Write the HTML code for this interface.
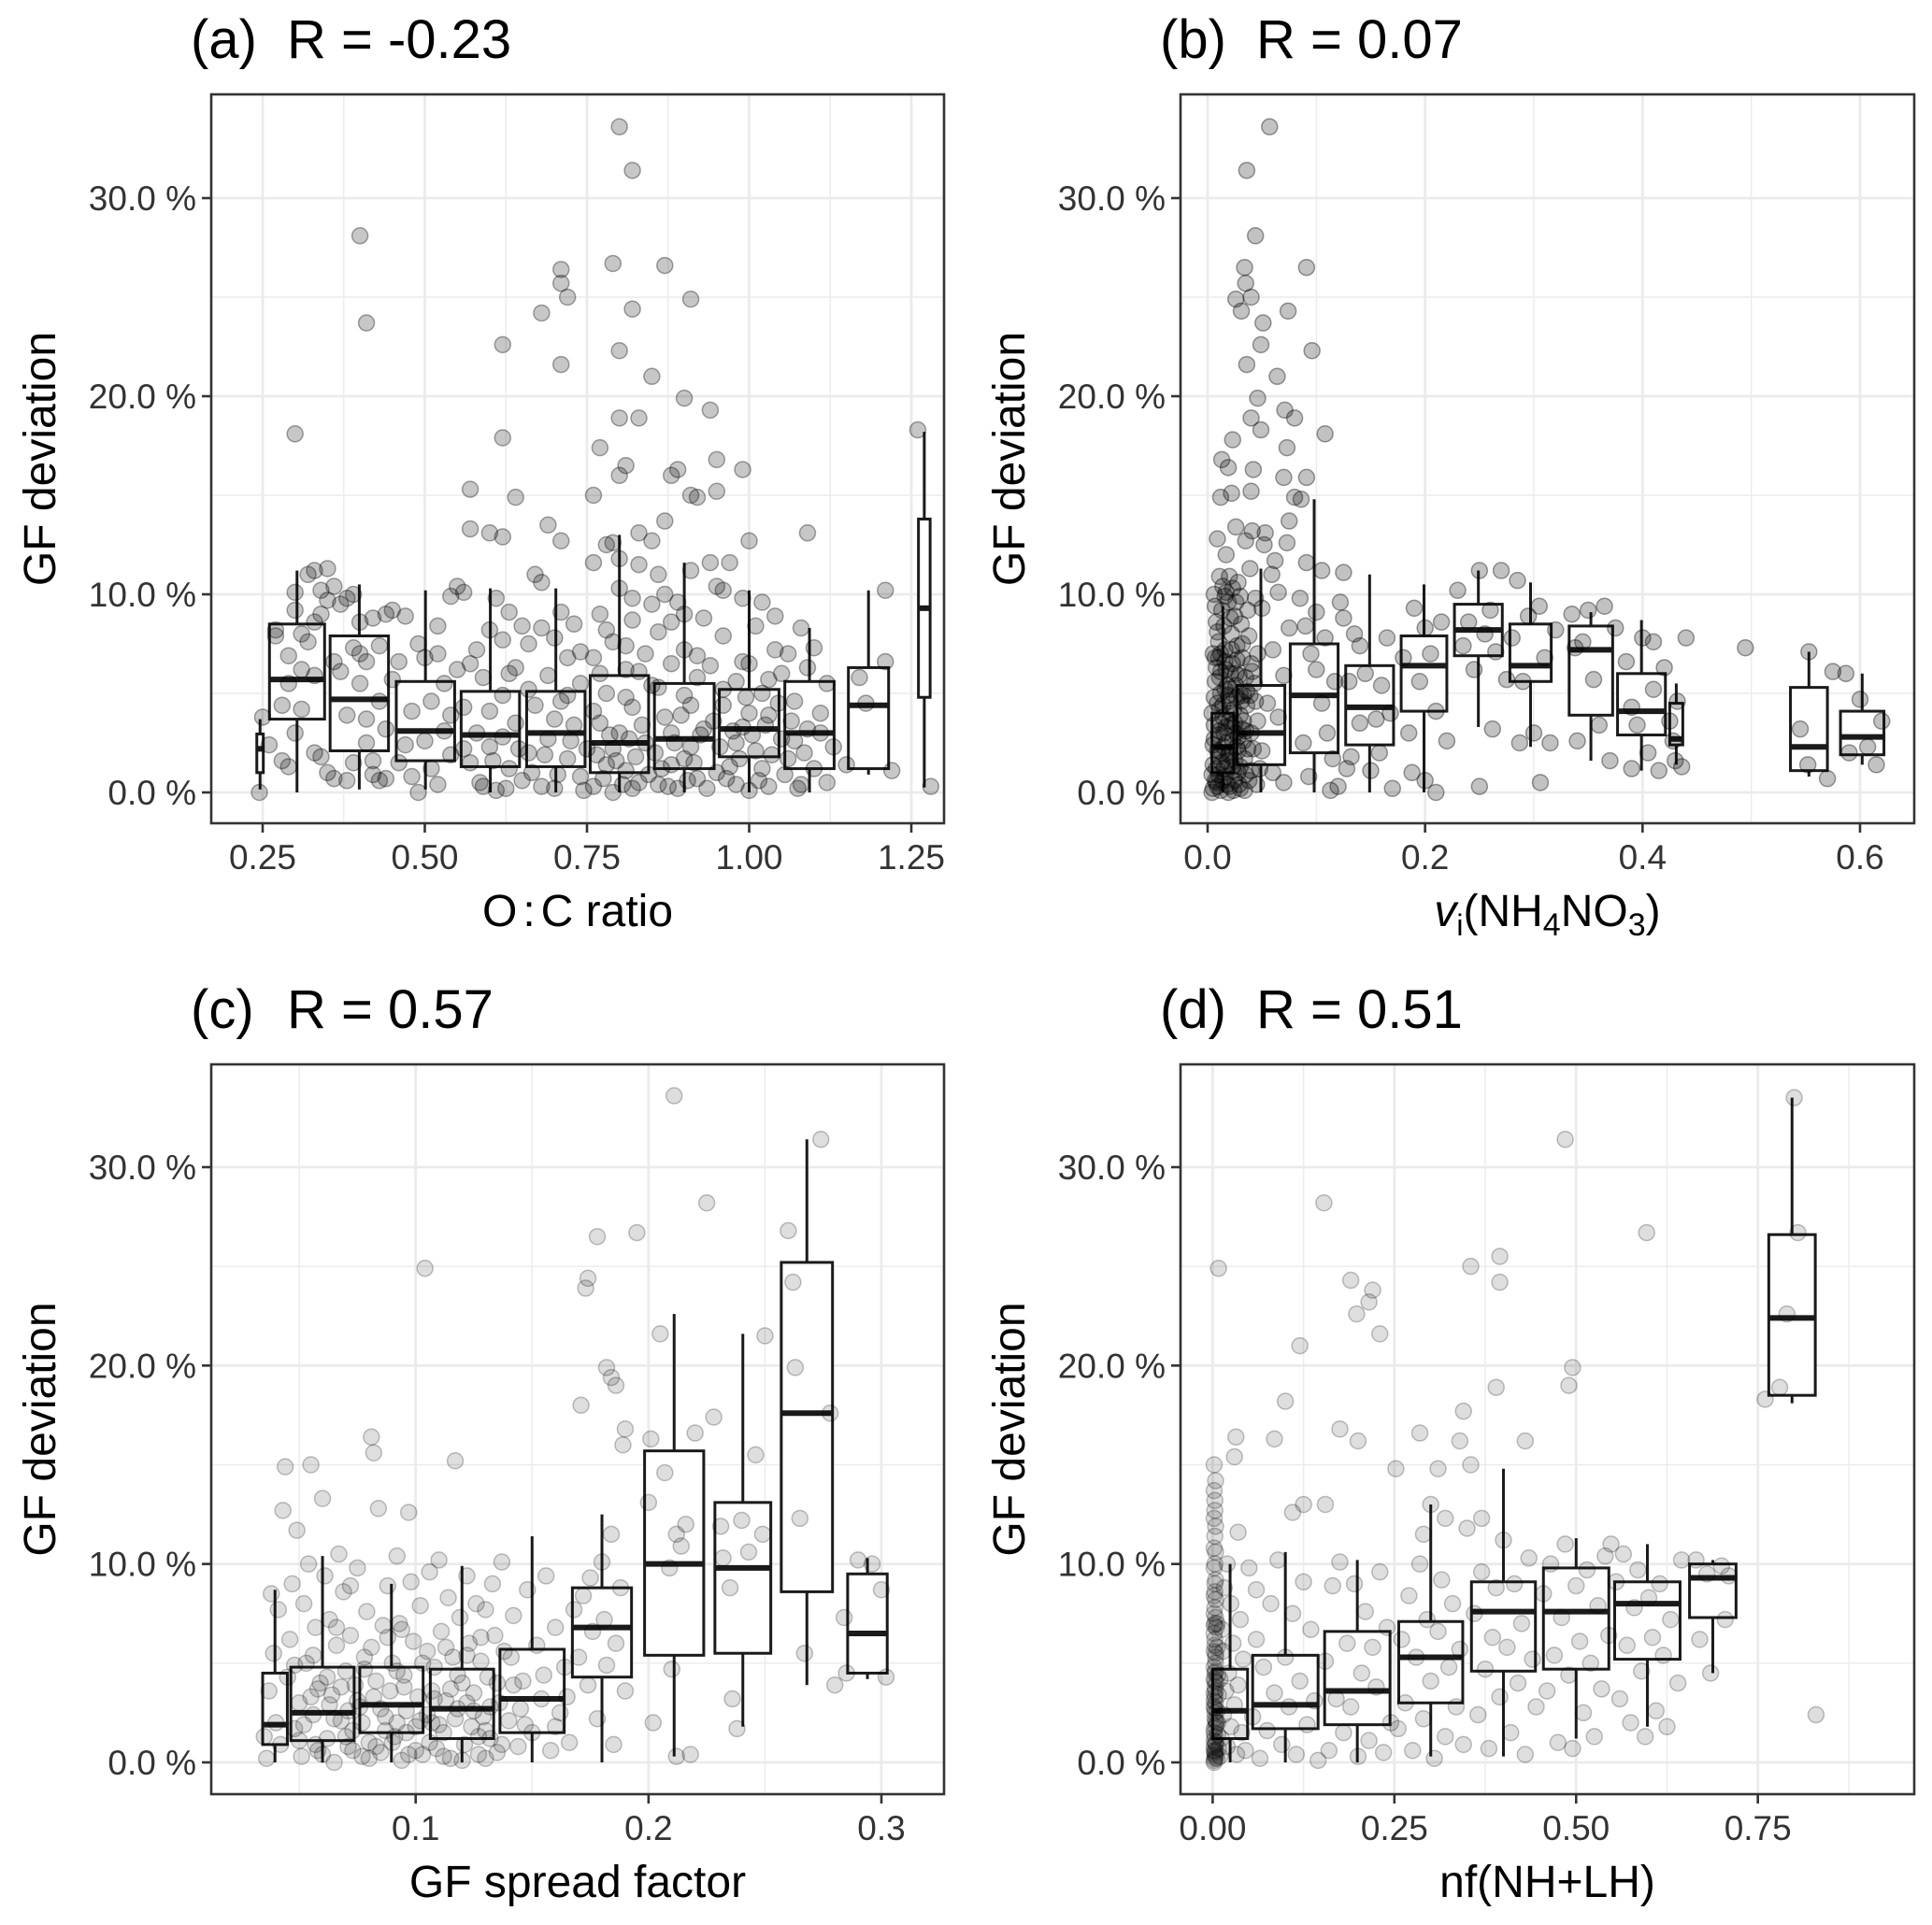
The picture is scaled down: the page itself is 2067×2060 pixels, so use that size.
<!DOCTYPE html>
<html><head><meta charset="utf-8"><title>GF deviation panels</title>
<style>html,body{margin:0;padding:0;background:#fff}svg{display:block}text{font-family:"Liberation Sans",Arial,sans-serif}</style>
</head><body>
<svg id="fig" width="2067" height="2060" viewBox="0 0 2067 2060" xmlns="http://www.w3.org/2000/svg"></svg>
<script>
// ---------------- data ----------------
const yTicks=[0,10,20,30];
const yTickLabels=["0.0 %","10.0 %","20.0 %","30.0 %"];
const yMinor=[5,15,25];

const xTicksA=[0.25,0.5,0.75,1.0,1.25];
const xTickLabelsA=["0.25","0.50","0.75","1.00","1.25"];
const xTicksB=[0,0.2,0.4,0.6];
const xTickLabelsB=["0.0","0.2","0.4","0.6"];
const xTicksC=[0.1,0.2,0.3];
const xTickLabelsC=["0.1","0.2","0.3"];
const xTicksD=[0,0.25,0.5,0.75];
const xTickLabelsD=["0.00","0.25","0.50","0.75"];

const titlesR=["R = -0.23","R = 0.07","R = 0.57","R = 0.51"];

// boxes: [x, halfWidth, lowerWhisker, q1, median, q3, upperWhisker]
const boxesA=[[0.246,0.005,0.15,1.0,2.2,2.95,3.7],[0.303,0.0425,0,3.7,5.7,8.5,11.2],[0.399,0.045,0.15,2.1,4.7,7.9,10.5],[0.501,0.045,0.15,1.6,3.1,5.6,10.2],[0.601,0.045,0,1.3,2.9,5.1,10.3],[0.702,0.045,0,1.3,3.0,5.1,10.3],[0.80,0.045,0,1.0,2.5,5.9,13.0],[0.90,0.046,0,1.2,2.7,5.5,11.6],[1.0,0.046,0,1.8,3.2,5.2,10.2],[1.093,0.038,0,1.2,3.0,5.6,8.3],[1.184,0.031,0.9,1.2,4.4,6.3,10.2],[1.27,0.009,0.25,4.8,9.3,13.8,18.2]];
const boxesB=[[0.014,0.01,0,1.0,2.3,4.0,9.4],[0.049,0.022,0,1.4,3.0,5.4,11.3],[0.098,0.022,0,2.0,4.9,7.5,14.8],[0.149,0.022,0,2.4,4.3,6.4,11.0],[0.199,0.021,0,4.1,6.4,7.9,10.5],[0.249,0.022,3.3,6.9,8.2,9.5,11.2],[0.297,0.019,2.3,5.6,6.4,8.5,10.6],[0.3525,0.02,1.6,3.9,7.2,8.4,9.1],[0.399,0.022,1.1,2.9,4.1,6.0,8.7],[0.431,0.006,1.4,2.4,2.7,4.5,5.5],[0.553,0.017,0.8,1.1,2.3,5.3,7.1],[0.602,0.02,1.4,1.9,2.8,4.1,6.0]];
const boxesC=[[0.0396,0.0053,0,0.9,1.9,4.5,8.7],[0.060,0.0136,0,1.1,2.5,4.8,10.4],[0.0896,0.0136,0,1.5,2.9,4.8,9.0],[0.1199,0.0136,0,1.2,2.7,4.7,9.9],[0.15,0.0138,0,1.5,3.2,5.7,11.4],[0.180,0.0127,0,4.3,6.8,8.8,12.5],[0.211,0.0127,0.3,5.4,10.0,15.7,22.6],[0.2405,0.012,1.8,5.5,9.8,13.1,21.6],[0.268,0.011,3.9,8.6,17.6,25.2,31.4],[0.294,0.0085,4.2,4.5,6.5,9.5,10.3]];
const boxesD=[[0.024,0.024,0,1.2,2.6,4.7,10.0],[0.10,0.045,0,1.7,2.9,5.4,10.6],[0.199,0.045,0,1.9,3.6,6.6,10.2],[0.30,0.044,0.3,3.0,5.3,7.1,13.0],[0.40,0.044,0.3,4.6,7.6,9.1,14.8],[0.50,0.045,1.2,4.7,7.6,9.8,11.3],[0.598,0.045,1.8,5.2,8.0,9.1,11.0],[0.688,0.032,4.5,7.3,9.3,10.0,10.2],[0.797,0.032,18.1,18.5,22.4,26.6,33.5]];

const ptsA=[[0.245,0],[0.25,3.8],[0.26,2.4],[0.27,8.2],[0.27,7.9],[0.28,1.6],[0.28,4.4],[0.29,6.9],[0.29,1.3],[0.30,9.2],[0.30,10.1],[0.31,8.0],[0.31,4.2],[0.32,11.0],[0.32,7.6],[0.33,11.2],[0.33,5.9],[0.34,10.2],[0.34,9.0],[0.35,11.3],[0.35,9.7],[0.35,1.0],[0.36,10.4],[0.34,1.8],[0.36,6.6],[0.37,9.5],[0.36,0.7],[0.33,2.0],[0.31,6.2],[0.29,5.5],
[0.38,9.8],[0.38,3.9],[0.39,7.3],[0.39,1.5],[0.40,5.5],[0.40,8.6],[0.41,2.5],[0.41,6.6],[0.42,1.6],[0.42,8.8],[0.43,4.6],[0.43,0.6],[0.44,9.0],[0.44,3.2],[0.45,9.2],[0.45,5.7],[0.37,6.1],[0.38,0.6],[0.42,0.9],[0.44,0.7],[0.40,7.0],[0.41,3.7],
[0.46,6.6],[0.47,2.4],[0.47,8.9],[0.48,4.1],[0.48,0.8],[0.49,7.5],[0.50,2.6],[0.50,6.8],[0.51,1.2],[0.51,4.6],[0.52,8.4],[0.52,0.4],[0.53,5.5],[0.53,3.1],[0.54,9.9],[0.54,1.9],[0.55,6.2],[0.49,0.0],[0.55,10.4],[0.46,1.5],[0.52,7.0],
[0.56,4.3],[0.56,10.1],[0.57,1.5],[0.58,7.2],[0.58,3.0],[0.59,0.3],[0.59,5.8],[0.60,8.2],[0.60,2.3],[0.61,9.8],[0.61,0.1],[0.62,4.9],[0.62,7.7],[0.63,1.2],[0.63,9.1],[0.64,6.3],[0.64,3.5],[0.65,8.4],[0.65,0.6],[0.57,6.5],[0.60,4.1],[0.62,2.8],
[0.66,7.5],[0.66,2.0],[0.67,11.0],[0.67,4.4],[0.68,0.3],[0.68,8.3],[0.69,5.9],[0.69,2.7],[0.70,7.8],[0.70,0.2],[0.71,4.6],[0.71,9.1],[0.72,1.7],[0.72,6.8],[0.73,3.4],[0.73,8.5],[0.74,0.8],[0.74,5.5],[0.75,2.2],[0.68,10.6],[0.72,4.9],[0.70,3.7],
[0.76,11.6],[0.76,6.8],[0.76,0.3],[0.77,3.5],[0.77,9.0],[0.78,12.5],[0.78,1.4],[0.78,5.0],[0.79,7.6],[0.79,0.0],[0.80,11.8],[0.80,3.0],[0.80,10.3],[0.81,6.2],[0.81,1.1],[0.82,8.7],[0.82,4.3],[0.83,11.5],[0.83,0.5],[0.84,7.0],[0.84,2.5],[0.85,9.5],[0.85,5.4],[0.79,2.2],[0.82,0.2],[0.77,6.0],[0.81,4.8],
[0.86,0.4],[0.86,8.1],[0.87,3.8],[0.87,10.0],[0.88,1.4],[0.88,6.5],[0.89,9.6],[0.89,0.2],[0.90,4.9],[0.90,7.2],[0.91,2.3],[0.91,11.2],[0.92,5.8],[0.92,0.7],[0.93,8.8],[0.93,3.2],[0.94,11.6],[0.94,6.4],[0.95,1.0],[0.95,10.4],[0.88,3.0],[0.91,4.4],[0.90,1.7],
[0.96,4.4],[0.96,7.9],[0.97,1.3],[0.97,11.6],[0.98,5.6],[0.98,0.4],[0.99,9.8],[0.99,3.3],[1.00,6.5],[1.00,0.1],[1.01,8.4],[1.01,2.1],[1.02,5.0],[1.02,9.6],[1.03,0.3],[1.03,3.9],[1.04,7.2],[1.04,8.9],[1.05,2.7],[1.05,6.0],[0.98,2.5],[1.00,4.0],[1.02,1.2],
[1.06,7.0],[1.06,1.7],[1.07,4.6],[1.08,8.3],[1.08,0.4],[1.09,3.2],[1.09,6.3],[1.10,1.2],[1.10,7.3],[1.11,4.0],[1.12,0.5],[1.12,5.5],[1.13,2.3],[1.07,2.6],[1.11,3.0],
[1.15,1.4],[1.17,5.8],[1.18,4.5],[1.21,10.2],[1.22,1.1],[1.21,6.6],[1.26,18.3],[1.28,0.3],
[0.40,28.1],[0.41,23.7],[0.30,18.1],[0.71,26.4],[0.71,25.7],[0.72,25.0],[0.68,24.2],[0.71,21.6],[0.79,26.7],[0.80,33.6],[0.82,31.4],[0.82,24.4],[0.80,22.3],[0.85,21.0],[0.87,26.6],[0.91,24.9],[0.90,19.9],[0.94,19.3],[0.80,18.9],[0.83,18.9],[0.62,22.6],[0.62,17.9],[0.77,17.4],[0.81,16.5],[0.80,16.0],[0.88,16.0],[0.89,16.3],[0.95,16.8],[0.99,16.3],[0.57,15.3],[0.76,15.0],[0.91,15.0],[0.92,14.9],[0.95,15.2],[0.64,14.9],[0.57,13.3],[0.60,13.1],[0.62,12.9],[0.69,13.5],[0.71,12.7],[0.79,12.6],[0.83,13.1],[0.85,12.7],[0.87,13.7],[1.00,12.7],[1.09,13.1],
[0.585,0.5],[0.605,1.6],[0.625,0.2],[0.645,2.2],[0.665,1.0],[0.685,1.9],[0.705,0.9],[0.725,2.6],[0.745,0.1],[0.765,1.9],[0.775,0.7],[0.785,2.9],[0.795,1.6],[0.805,0.4],[0.815,2.7],[0.825,1.8],[0.835,3.4],[0.845,0.9],[0.855,2.0],[0.865,1.2],[0.875,0.3],[0.885,2.5],[0.895,3.9],[0.905,0.6],[0.915,1.5],[0.925,2.9],[0.935,0.2],[0.945,3.6],[0.955,2.3],[0.965,0.7],[0.975,3.1],[0.985,1.7],[0.995,4.8],[1.005,2.9],[1.015,0.6],[1.025,3.4],[1.035,1.9],[1.045,4.5],[1.055,0.9],[1.065,3.6],[1.075,0.2],[1.085,2.0],[0.81,7.4],[0.83,6.1],[0.86,5.3],[0.88,8.6],[0.92,6.9],[0.96,5.2],[0.99,6.6],[1.03,5.7],[0.76,4.1],[0.74,7.1],[0.66,5.2],[0.63,6.0],[0.56,2.2],[0.54,3.9],[0.43,7.4],[0.39,10.0],[0.33,8.6],[0.30,3.0],[0.82,9.8],[0.78,8.2],[0.86,11.0],[0.9,9.0],[0.96,10.2]];

const ptsB=[[0.005,0.2],[0.008,0.5],[0.012,0.1],[0.016,0.8],[0.02,0.3],[0.025,0.6],[0.03,0.2],[0.035,0.9],[0.005,1.4],[0.01,1.8],[0.015,1.2],[0.02,2.0],[0.025,1.6],[0.03,1.3],[0.037,2.2],[0.006,2.7],[0.011,3.1],[0.017,2.5],[0.022,3.4],[0.028,2.8],[0.033,3.6],[0.004,4.0],[0.009,4.5],[0.014,3.8],[0.019,4.9],[0.024,4.2],[0.03,5.0],[0.036,4.4],[0.007,5.6],[0.012,6.1],[0.018,5.4],[0.023,6.5],[0.029,5.9],[0.005,7.0],[0.01,7.6],[0.016,7.2],[0.022,8.0],[0.027,7.4],[0.008,8.6],[0.013,9.2],[0.019,9.6],[0.025,8.9],[0.006,10.0],[0.014,10.4],[0.02,10.9],[0.03,9.9],[0.04,1.1],[0.04,3.0],[0.043,5.5],[0.045,0.4],[0.01,0.9],[0.015,2.3],[0.02,4.6],[0.026,3.0],[0.034,1.7],[0.012,5.0],[0.017,3.3],[0.008,6.3],[0.024,0.1],[0.032,6.8],[0.038,7.9],
[0.007,0.6],[0.013,1.5],[0.018,0.4],[0.023,2.6],[0.028,1.0],[0.032,3.2],[0.009,2.1],[0.014,4.4],[0.021,5.2],[0.027,4.8],[0.006,3.4],[0.011,5.8],[0.016,6.6],[0.026,6.0],[0.035,5.8],[0.04,6.5],[0.05,2.1],[0.055,4.5],[0.06,1.0],[0.06,7.2],[0.065,3.8],[0.07,5.9],[0.07,0.5],[0.075,8.3],[0.05,9.3],[0.065,10.1],
[0.004,0.0],[0.009,0.3],[0.014,0.6],[0.019,0.0],[0.024,1.1],[0.029,0.4],[0.034,0.1],[0.004,0.9],[0.008,1.2],[0.013,2.0],[0.018,1.6],[0.023,1.3],[0.028,2.1],[0.033,2.6],[0.038,0.6],[0.005,2.4],[0.01,2.9],[0.015,3.0],[0.02,3.6],[0.025,3.5],[0.03,3.9],[0.035,3.1],[0.006,4.8],[0.011,4.2],[0.016,5.2],[0.021,4.0],[0.026,5.4],[0.031,4.6],[0.036,5.1],[0.007,6.8],[0.012,7.0],[0.017,6.2],[0.022,7.2],[0.027,6.7],[0.032,7.5],[0.009,8.1],[0.015,8.4],[0.021,8.8],[0.026,9.6],[0.031,8.5],[0.007,9.4],[0.011,10.9],[0.017,10.1],[0.023,10.3],[0.028,10.6],[0.042,2.2],[0.046,3.6],[0.044,4.6],[0.048,1.2],[0.039,4.9],[0.041,6.1],[0.046,7.0],[0.037,9.2],[0.044,9.8],[0.012,3.5],[0.019,1.9],[0.027,2.3],[0.033,4.9],[0.01,6.8],[0.021,6.0],[0.016,9.9],
[0.057,33.6],[0.036,31.4],[0.044,28.1],[0.034,26.5],[0.091,26.5],[0.035,25.7],[0.026,24.9],[0.04,25.0],[0.031,24.3],[0.074,24.3],[0.051,23.7],[0.096,22.3],[0.049,22.6],[0.036,21.6],[0.064,21.0],[0.046,19.9],[0.04,18.9],[0.071,19.3],[0.08,18.9],[0.049,18.3],[0.108,18.1],[0.023,17.8],[0.073,17.4],[0.013,16.8],[0.019,16.4],[0.042,16.3],[0.07,15.9],[0.091,15.9],[0.04,15.2],[0.012,14.9],[0.022,15.1],[0.08,14.9],[0.086,14.8],[0.075,13.7],[0.026,13.4],[0.041,13.2],[0.053,13.1],[0.009,12.8],[0.035,12.7],[0.052,12.5],[0.073,12.6],[0.017,12.0],[0.062,11.7],[0.091,11.6],[0.105,11.2],[0.125,11.1],[0.059,11.0],[0.039,11.3],
[0.085,9.8],[0.09,8.4],[0.095,7.0],[0.1,6.2],[0.105,4.5],[0.11,3.0],[0.115,1.7],[0.12,0.3],[0.088,2.5],[0.093,0.8],[0.1,9.1],[0.108,7.8],[0.117,5.6],[0.122,9.6],[0.125,8.8],[0.113,0.1],[0.128,1.2],
[0.13,5.6],[0.135,8.0],[0.14,3.5],[0.145,6.0],[0.15,1.1],[0.155,3.7],[0.16,5.4],[0.165,7.8],[0.17,0.2],[0.14,7.4],[0.158,2.0],[0.132,1.8],[0.168,4.0],
[0.18,6.8],[0.185,3.0],[0.19,9.3],[0.195,5.6],[0.2,0.6],[0.205,7.0],[0.21,4.1],[0.215,8.6],[0.22,2.6],[0.188,1.0],[0.21,0.0],[0.2,8.3],
[0.23,10.2],[0.235,7.4],[0.24,8.6],[0.245,6.2],[0.25,11.2],[0.255,8.0],[0.26,9.2],[0.265,7.1],[0.27,11.2],[0.275,5.7],[0.25,0.3],[0.262,3.2],
[0.28,7.8],[0.285,10.7],[0.29,5.6],[0.295,8.9],[0.3,3.0],[0.305,9.4],[0.31,6.8],[0.315,2.5],[0.32,8.2],[0.306,0.5],[0.287,2.5],
[0.335,9.0],[0.34,2.6],[0.345,7.6],[0.35,9.2],[0.355,5.7],[0.36,3.4],[0.365,9.4],[0.37,1.6],[0.375,8.3],[0.338,7.3],
[0.385,6.6],[0.39,4.3],[0.395,3.4],[0.4,7.8],[0.405,2.0],[0.41,5.2],[0.415,1.1],[0.42,6.3],[0.39,1.2],[0.41,7.6],
[0.425,3.6],[0.43,1.6],[0.432,4.6],[0.428,2.6],[0.436,1.3],[0.44,7.8],
[0.4946,7.3],[0.553,7.1],[0.545,3.2],[0.552,1.4],[0.57,0.7],[0.575,6.1],[0.587,6.0],[0.6,4.7],[0.59,2.0],[0.607,2.3],[0.615,1.4],[0.62,3.6]];

const ptsC=[[0.035,1.3],[0.036,0.2],[0.037,3.6],[0.038,8.5],[0.039,5.5],[0.04,2.0],[0.041,7.7],[0.042,0.9],[0.043,12.7],[0.044,14.9],[0.045,4.3],[0.046,6.2],[0.047,9.0],[0.048,1.7],[0.049,11.7],[0.05,3.0],[0.051,0.3],[0.052,8.0],[0.053,5.0],[0.054,10.0],[0.055,15.0],[0.056,2.4],[0.057,6.8],[0.058,0.6],[0.059,4.0],[0.06,13.3],[0.061,9.4],[0.062,1.2],[0.063,7.2],[0.064,3.4],[0.065,0.0],[0.066,5.9],[0.067,10.5],[0.068,2.1],[0.069,8.6],[0.07,4.6],[0.071,0.8],[0.072,6.4],[0.073,1.6],[0.074,3.9],[0.075,9.8],[0.076,2.8],[0.077,0.3],[0.078,5.3],[0.079,7.6],[0.08,1.0],[0.081,16.4],[0.082,15.6],[0.083,4.1],[0.084,12.8],[0.085,0.5],[0.086,6.9],[0.087,2.3],[0.088,8.9],[0.089,3.6],[0.09,5.0],[0.091,1.3],[0.092,10.4],[0.093,7.0],[0.094,0.1],[0.095,4.4],[0.096,2.6],[0.097,12.6],[0.098,9.1],[0.099,6.1],[0.1,1.8],[0.101,3.3],[0.102,7.9],[0.103,0.4],[0.104,24.9],[0.105,5.6],[0.106,9.6],[0.107,2.0],[0.108,4.8],[0.109,0.7],[0.11,10.2],[0.111,6.6],[0.112,1.5],[0.113,3.1],[0.114,8.3],[0.115,0.2],[0.116,5.3],[0.117,15.2],[0.118,2.7],[0.119,7.3],[0.12,4.0],[0.121,0.9],[0.122,9.4],[0.123,6.0],[0.124,1.8],[0.125,3.5],[0.126,8.0],[0.127,0.4],[0.128,5.1],[0.129,2.3],[0.13,7.7],[0.131,4.3],[0.132,1.2],[0.133,9.0],[0.134,6.4],[0.135,0.5],[0.136,3.0],[0.137,10.1],[0.138,5.6],[0.14,2.1],[0.142,7.4],[0.144,0.8],[0.146,4.1],[0.148,8.7],[0.15,1.5],[0.152,5.9],[0.154,3.2],[0.156,9.4],[0.158,0.6],[0.16,6.8],[0.162,2.5],[0.164,4.8],[0.166,1.0],[0.168,7.7],
[0.05,1.1],[0.055,3.3],[0.06,0.4],[0.065,2.2],[0.07,1.3],[0.075,3.1],[0.08,0.2],[0.085,2.7],[0.09,1.0],[0.095,3.8],[0.1,0.6],[0.105,2.4],[0.11,1.9],[0.115,3.7],[0.12,0.1],[0.125,2.6],[0.13,1.6],[0.135,4.0],[0.062,4.3],[0.078,4.7],[0.092,2.0],[0.108,3.2],[0.122,5.4],[0.072,8.9],[0.088,6.3],
[0.052,1.9],[0.057,0.9],[0.063,2.9],[0.068,3.8],[0.073,0.6],[0.077,2.0],[0.082,3.3],[0.087,1.6],[0.092,4.6],[0.097,0.4],[0.102,2.1],[0.107,3.6],[0.112,0.3],[0.117,2.2],[0.122,3.0],[0.127,1.3],[0.132,2.8],[0.137,0.9],[0.142,3.9],[0.147,1.9],[0.056,5.4],[0.066,6.8],[0.081,5.8],[0.094,6.7],[0.103,5.0],[0.113,5.8],[0.128,6.3],[0.141,5.3],[0.058,3.7],[0.071,2.6],[0.083,0.8],[0.096,1.5],[0.106,1.0],[0.118,4.4],[0.13,0.2],[0.145,2.7],[0.155,4.4],[0.16,1.8],[0.165,3.3],[0.048,4.9],
[0.17,5.3],[0.172,8.4],[0.174,3.9],[0.175,9.3],[0.176,6.6],[0.178,2.2],[0.18,10.1],[0.181,7.2],[0.182,4.9],[0.184,11.5],[0.185,0.9],[0.186,6.0],[0.188,8.8],[0.19,3.6],[0.173,23.9],[0.174,24.4],[0.178,26.5],[0.182,19.9],[0.184,19.4],[0.186,19.0],[0.189,16.0],[0.19,16.8],[0.171,18.0],[0.195,26.7],
[0.2,13.1],[0.201,16.3],[0.202,2.0],[0.205,21.6],[0.207,14.6],[0.209,9.8],[0.21,4.7],[0.211,33.6],[0.212,11.5],[0.214,10.9],[0.216,12.0],[0.218,0.4],[0.22,16.6],[0.212,0.3],[0.225,28.2],[0.228,17.4],[0.231,11.9],[0.232,10.3],[0.235,8.8],[0.236,3.2],[0.24,12.2],[0.243,10.6],[0.246,15.5],[0.249,11.5],[0.25,21.5],[0.238,1.7],[0.26,26.8],[0.262,24.2],[0.263,19.9],[0.265,12.3],[0.267,5.5],[0.274,31.4],[0.278,17.6],[0.28,3.9],[0.284,7.3],[0.285,4.5],[0.29,10.2],[0.296,10.0],[0.3,8.7],[0.302,4.3]];

const ptsD=[[0.002,0],[0.003,0.5],[0.004,1.0],[0.002,1.5],[0.005,2.0],[0.003,2.5],[0.004,3.0],[0.002,3.5],[0.005,4.0],[0.003,4.5],[0.004,5.0],[0.002,5.6],[0.003,6.2],[0.005,6.8],[0.002,7.5],[0.004,8.2],[0.003,9.0],[0.002,9.8],[0.004,10.6],[0.003,11.4],[0.002,12.3],[0.003,13.2],[0.004,14.2],[0.002,15.0],[0.003,0.2],[0.002,0.8],[0.004,1.8],[0.003,3.3],[0.002,4.2],[0.004,5.3],[0.003,7.0],[0.002,1.1],[0.004,0.3],[0.003,2.2],[0.003,3.8],[0.002,6.5],[0.004,0.6],[0.002,2.8],[0.004,4.6],[0.003,8.6],
[0.002,0.1],[0.003,0.4],[0.002,0.6],[0.004,0.9],[0.003,1.3],[0.002,1.7],[0.004,2.1],[0.003,2.7],[0.002,3.1],[0.004,3.6],[0.003,4.1],[0.002,4.8],[0.004,5.5],[0.003,5.9],[0.002,6.9],[0.004,7.3],[0.003,7.8],[0.002,8.4],[0.004,9.2],[0.003,10.0],[0.002,10.8],[0.004,11.9],[0.003,12.7],[0.002,13.7],[0.006,0.2],[0.007,1.4],[0.006,2.6],[0.008,3.4],[0.007,4.4],[0.006,5.8],[0.008,0.7],[0.007,2.0],
[0.01,0.3],[0.012,1.2],[0.015,2.4],[0.018,3.6],[0.02,0.8],[0.022,4.5],[0.025,1.8],[0.028,6.0],[0.03,2.9],[0.033,0.4],[0.035,3.9],[0.038,7.2],[0.04,1.5],[0.042,5.2],[0.045,0.6],[0.01,4.2],[0.013,6.7],[0.016,8.8],[0.02,10.0],[0.025,8.0],[0.03,15.4],[0.032,16.4],[0.035,11.6],[0.008,24.9],[0.014,5.6],[0.006,7.0],
[0.05,9.8],[0.055,2.3],[0.06,6.2],[0.065,0.2],[0.07,4.8],[0.075,1.6],[0.08,8.0],[0.085,3.5],[0.09,10.2],[0.095,0.9],[0.1,5.3],[0.105,2.8],[0.11,7.5],[0.115,0.4],[0.12,4.1],[0.125,9.1],[0.13,1.9],[0.135,6.7],[0.14,3.1],[0.145,0.1],[0.1,18.2],[0.085,16.3],[0.11,12.6],[0.12,21.0],[0.125,13.0],[0.06,8.7],
[0.155,5.1],[0.16,0.6],[0.165,8.9],[0.17,3.2],[0.175,10.1],[0.18,1.5],[0.185,6.0],[0.19,2.8],[0.195,9.0],[0.2,0.3],[0.205,4.5],[0.21,7.6],[0.215,1.1],[0.22,5.8],[0.225,3.8],[0.23,9.6],[0.235,0.5],[0.24,6.8],[0.245,2.0],[0.2,16.2],[0.215,23.2],[0.198,22.6],[0.22,23.8],[0.19,24.3],[0.23,21.6],[0.175,16.8],[0.153,28.2],[0.155,13.0],
[0.255,1.7],[0.26,6.2],[0.265,3.0],[0.27,8.4],[0.275,0.6],[0.28,5.3],[0.285,10.0],[0.29,2.2],[0.295,7.2],[0.3,4.1],[0.305,0.2],[0.31,6.6],[0.315,9.2],[0.32,1.3],[0.325,4.8],[0.33,8.0],[0.335,2.8],[0.34,5.7],[0.345,0.9],[0.31,14.8],[0.29,11.5],[0.32,12.3],[0.3,13.0],[0.355,15.0],[0.345,17.7],[0.34,16.2],[0.35,11.8],[0.285,16.6],[0.355,25.0],[0.252,14.8],
[0.36,7.5],[0.365,2.4],[0.37,9.6],[0.375,4.7],[0.38,0.7],[0.385,6.3],[0.39,8.8],[0.395,3.3],[0.4,11.2],[0.405,5.8],[0.41,1.5],[0.415,9.0],[0.42,4.0],[0.425,7.0],[0.43,0.4],[0.435,10.3],[0.44,5.2],[0.445,2.8],[0.39,18.9],[0.395,25.5],[0.395,24.2],[0.43,16.2],[0.37,12.3],
[0.455,8.5],[0.46,3.6],[0.465,10.0],[0.47,5.4],[0.475,1.0],[0.48,7.3],[0.485,11.0],[0.49,4.4],[0.495,0.7],[0.5,8.9],[0.505,6.1],[0.51,2.5],[0.515,9.7],[0.52,5.0],[0.525,1.3],[0.53,7.9],[0.535,3.7],[0.54,10.4],[0.545,6.4],[0.485,31.4],[0.495,19.9],[0.49,19.0],[0.548,11.0],
[0.555,9.1],[0.56,3.2],[0.565,10.5],[0.57,5.9],[0.575,2.0],[0.58,7.8],[0.585,9.7],[0.59,4.6],[0.595,1.3],[0.6,8.3],[0.605,6.3],[0.61,2.6],[0.615,9.0],[0.62,5.4],[0.625,1.8],[0.63,7.2],[0.64,4.0],[0.645,10.2],[0.597,26.7],
[0.665,10.2],[0.67,6.2],[0.68,9.5],[0.685,4.5],[0.7,9.9],[0.71,9.4],[0.705,7.2],
[0.76,18.3],[0.78,18.9],[0.79,22.6],[0.8,33.5],[0.805,26.7],[0.83,2.4]];

// ---------------- drawing ----------------
const NS="http://www.w3.org/2000/svg";
const svg=document.getElementById('fig');
function mk(tag,attrs,parent){const e=document.createElementNS(NS,tag);for(const k in attrs)e.setAttribute(k,attrs[k]);(parent||svg).appendChild(e);return e;}

function drawPanel(cfg){
  const g=mk('g',{});
  
  
  const xs=v=>cfg.xp0+(v-cfg.xv0)*(cfg.xp1-cfg.xp0)/(cfg.xv1-cfg.xv0);
  const ys=v=>cfg.y0-v*(cfg.y0-cfg.y30)/30;
  mk('rect',{x:cfg.L,y:cfg.T,width:cfg.R-cfg.L,height:cfg.B-cfg.T,fill:'#fff'},g);
  const grid=mk('g',{},g);
  
  
  yMinor.forEach(v=>mk('line',{x1:cfg.L,x2:cfg.R,y1:ys(v),y2:ys(v),stroke:'#ebebeb','stroke-width':1.4},grid));
  cfg.xMinor.forEach(v=>mk('line',{x1:xs(v),x2:xs(v),y1:cfg.T,y2:cfg.B,stroke:'#ebebeb','stroke-width':1.4},grid));
  yTicks.forEach(v=>mk('line',{x1:cfg.L,x2:cfg.R,y1:ys(v),y2:ys(v),stroke:'#ebebeb','stroke-width':2.8},grid));
  cfg.xt.forEach(v=>mk('line',{x1:xs(v),x2:xs(v),y1:cfg.T,y2:cfg.B,stroke:'#ebebeb','stroke-width':2.8},grid));
  const bg=mk('g',{},g);
  cfg.boxes.forEach((b,i)=>{
    const bx=mk('g',{},bg);
    
    
    const cx=xs(b[0]),x1=xs(b[0]-b[1]),x2=xs(b[0]+b[1]);
    mk('line',{x1:cx,x2:cx,y1:ys(b[2]),y2:ys(b[3]),stroke:'#1a1a1a','stroke-width':3},bx);
    mk('line',{x1:cx,x2:cx,y1:ys(b[5]),y2:ys(b[6]),stroke:'#1a1a1a','stroke-width':3},bx);
    mk('rect',{x:x1,y:ys(b[5]),width:x2-x1,height:ys(b[3])-ys(b[5]),fill:'#fff',stroke:'#1a1a1a','stroke-width':3},bx);
    mk('line',{x1:x1,x2:x2,y1:ys(b[4]),y2:ys(b[4]),stroke:'#1a1a1a','stroke-width':6},bx);
  });
  const pg=mk('g',{},g);
  
  
  cfg.pts.forEach(p=>{
    const c=mk('circle',{cx:xs(p[0]),cy:ys(p[1]),r:8.5,fill:'rgba(0,0,0,'+cfg.fa+')',stroke:'rgba(0,0,0,'+cfg.sa+')','stroke-width':1.5},pg);
    
    
  });
  const fr=mk('rect',{x:cfg.L,y:cfg.T,width:cfg.R-cfg.L,height:cfg.B-cfg.T,fill:'none',stroke:'#333','stroke-width':2.6},g);
  
  
  yTicks.forEach((v,i)=>{
    mk('line',{x1:cfg.L-10,x2:cfg.L,y1:ys(v),y2:ys(v),stroke:'#333','stroke-width':2.6},g);
    const t=mk('text',{x:cfg.L-16,y:ys(v)+13,'text-anchor':'end','font-size':37,fill:'#333'},g);
    t.textContent=yTickLabels[i];
    
    
  });
  cfg.xt.forEach((v,i)=>{
    mk('line',{x1:xs(v),x2:xs(v),y1:cfg.B,y2:cfg.B+10,stroke:'#333','stroke-width':2.6},g);
    const t=mk('text',{x:xs(v),y:cfg.B+49,'text-anchor':'middle','font-size':37,fill:'#333'},g);
    t.textContent=cfg.xl[i];
    
    
  });
  const yt=mk('text',{x:0,y:0,transform:'translate('+(cfg.L-167)+','+((cfg.T+cfg.B)/2)+') rotate(-90)','text-anchor':'middle','font-size':48,fill:'#000'},g);
  yt.textContent='GF deviation';
  
  
  const xt=mk('text',{x:(cfg.L+cfg.R)/2,y:cfg.B+110,'text-anchor':'middle','font-size':48,fill:'#000'},g);
  
  
  xt.innerHTML=cfg.xtitle;
  const t1=mk('text',{x:cfg.L-22,y:cfg.T-39,'font-size':58,fill:'#000'},g);
  t1.textContent=cfg.tag;
  
  
  const t2=mk('text',{x:cfg.L+81,y:cfg.T-39,'font-size':58,fill:'#000'},g);
  t2.textContent=cfg.rtext;
  
  
}

drawPanel({name:'panel-a',L:226,R:1010,T:101,B:881,y0:848,y30:212,xp0:281,xv0:0.25,xp1:975,xv1:1.25,
  xt:xTicksA,xl:xTickLabelsA,xMinor:[0.375,0.625,0.875,1.125],boxes:boxesA,pts:ptsA,fa:0.22,sa:0.35,
  xtitle:'O<tspan dx="6">:</tspan><tspan dx="6">C ratio</tspan>',tag:'(a)',rtext:titlesR[0]});
drawPanel({name:'panel-b',L:1263,R:2048,T:101,B:881,y0:848,y30:212,xp0:1292,xv0:0,xp1:1990,xv1:0.6,
  xt:xTicksB,xl:xTickLabelsB,xMinor:[0.1,0.3,0.5],boxes:boxesB,pts:ptsB,fa:0.24,sa:0.38,
  xtitle:'<tspan font-style="italic">v</tspan><tspan font-size="32" dy="10">i</tspan><tspan dy="-10">(NH</tspan><tspan font-size="34" dy="10">4</tspan><tspan dy="-10">NO</tspan><tspan font-size="34" dy="10">3</tspan><tspan dy="-10">)</tspan>',tag:'(b)',rtext:titlesR[1]});
drawPanel({name:'panel-c',L:226,R:1010,T:1139,B:1920,y0:1886,y30:1249,xp0:444.7,xv0:0.1,xp1:943,xv1:0.3,
  xt:xTicksC,xl:xTickLabelsC,xMinor:[0.05,0.15,0.25],boxes:boxesC,pts:ptsC,fa:0.13,sa:0.24,
  xtitle:'GF spread factor',tag:'(c)',rtext:titlesR[2]});
drawPanel({name:'panel-d',L:1263,R:2048,T:1139,B:1920,y0:1886,y30:1249,xp0:1297.4,xv0:0,xp1:1880.7,xv1:0.75,
  xt:xTicksD,xl:xTickLabelsD,xMinor:[0.125,0.375,0.625,0.875],boxes:boxesD,pts:ptsD,fa:0.13,sa:0.24,
  xtitle:'nf(NH+LH)',tag:'(d)',rtext:titlesR[3]});
</script>
</body></html>
